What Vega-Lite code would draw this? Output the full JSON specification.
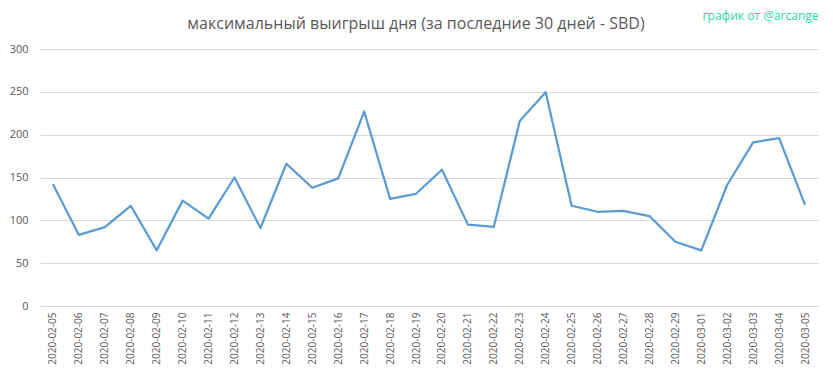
{
  "$schema": "https://vega.github.io/schema/vega-lite/v6.json",
  "autosize": "none",
  "width": 778,
  "height": 257,
  "padding": {"left": 40, "top": 49, "right": 15, "bottom": 73},
  "background": "white",
  "title": {
    "text": "максимальный выигрыш дня (за последние 30 дней - SBD)",
    "anchor": "middle",
    "frame": "group",
    "dx": -13,
    "dy": 40,
    "offset": 17,
    "font": "Open Sans",
    "fontSize": 16,
    "fontWeight": "normal",
    "color": "#595959"
  },
  "config": {
    "view": {"stroke": null},
    "axis": {"labelFont": "Open Sans", "labelColor": "#595959", "titleFont": "Open Sans"}
  },
  "data": {
    "values": [
      {"date": "2020-02-05", "value": 142},
      {"date": "2020-02-06", "value": 83},
      {"date": "2020-02-07", "value": 92},
      {"date": "2020-02-08", "value": 117},
      {"date": "2020-02-09", "value": 65},
      {"date": "2020-02-10", "value": 123},
      {"date": "2020-02-11", "value": 102},
      {"date": "2020-02-12", "value": 150},
      {"date": "2020-02-13", "value": 91},
      {"date": "2020-02-14", "value": 166},
      {"date": "2020-02-15", "value": 138},
      {"date": "2020-02-16", "value": 149},
      {"date": "2020-02-17", "value": 227},
      {"date": "2020-02-18", "value": 125},
      {"date": "2020-02-19", "value": 131},
      {"date": "2020-02-20", "value": 159},
      {"date": "2020-02-21", "value": 95},
      {"date": "2020-02-22", "value": 92.5},
      {"date": "2020-02-23", "value": 216},
      {"date": "2020-02-24", "value": 249.5},
      {"date": "2020-02-25", "value": 117},
      {"date": "2020-02-26", "value": 110},
      {"date": "2020-02-27", "value": 111},
      {"date": "2020-02-28", "value": 105},
      {"date": "2020-02-29", "value": 75},
      {"date": "2020-03-01", "value": 65},
      {"date": "2020-03-02", "value": 141.5},
      {"date": "2020-03-03", "value": 191},
      {"date": "2020-03-04", "value": 196},
      {"date": "2020-03-05", "value": 118}
    ]
  },
  "mark": {"type": "line", "color": "#5b9bd5", "strokeWidth": 2.25, "strokeJoin": "round"},
  "encoding": {
    "x": {
      "field": "date",
      "type": "ordinal",
      "sort": null,
      "scale": {"padding": 0.5},
      "axis": {
        "title": null,
        "labelAngle": -90,
        "labelFontSize": 10,
        "labelPadding": 6,
        "ticks": false,
        "domainColor": "#d9d9d9",
        "domainWidth": 1
      }
    },
    "y": {
      "field": "value",
      "type": "quantitative",
      "scale": {"domain": [0, 300], "nice": false},
      "axis": {
        "values": [0, 50, 100, 150, 200, 250, 300],
        "title": "график от @arcange",
        "titleAngle": 0,
        "titleX": 778,
        "titleY": -34,
        "titleAlign": "right",
        "titleBaseline": "middle",
        "titleColor": "#1fdca3",
        "titleFontSize": 12,
        "titleFontWeight": "normal",
        "labelFontSize": 11,
        "labelPadding": 12,
        "ticks": false,
        "domain": false,
        "gridColor": "#d9d9d9",
        "gridWidth": 1
      }
    }
  }
}
